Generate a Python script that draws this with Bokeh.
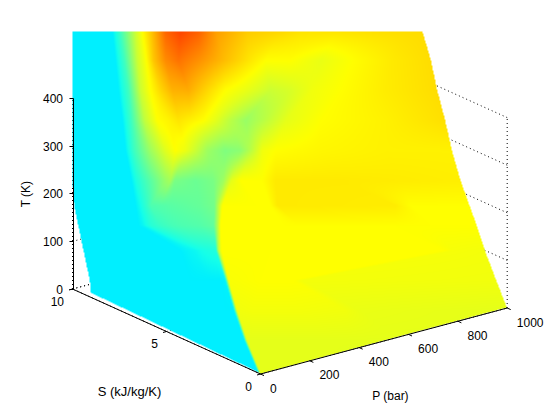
import numpy as np
from bokeh.embed import file_html
from bokeh.resources import INLINE
from bokeh.plotting import figure
from bokeh.models import Range1d, LinearAxis, FixedTicker, Label

# ---- tick labels / axis values
P_ticks = [0, 200, 400, 600, 800, 1000]
S_ticks = [0, 5, 10]
T_ticks = [0, 100, 200, 300, 400]
P_title = "P (bar)"
S_title = "S (kJ/kg/K)"
T_title = "T (K)"

# ---- surface samples: along each scan row of the view,
# where the shading stops sit and the colour value there (0 cyan, 1 yellow, 2 red)
scan_rows = [31, 60, 90, 120, 150, 180, 205, 225, 250, 280, 310, 340, 374]
stop_x = [
    [72,112,120,135,142,152,165,180,198,215,247,280,303,337,380,410,422],
    [72,115,124,137,146,153,165,178,200,225,248,265,290,320,352,392,430.5],
    [72,118,128,140,150,160,172,188,207,225,245,270,290,312,340,385,436.8],
    [72,122,131,144,157,168,178,190,203,215,228,245,262,285,320,385,444.7],
    [72,125,134,150,165,175,185,195,207,225,240,250,262,275,320,385,451.5],
    [72,131,136,150,165,170,174,195,213,223,231,240,262,275,340,400,460],
    [73.7,135,140,146,150,160,170,200,214,218,222,255,270,277,395,410,469],
    [77.8,138,142,150,160,170,180,200,213,217,220,270,285,300,395,430,476.3],
    [83,180,188,195,200,205,208,212,215.5,218,221,270,340,430,445,452,484.4],
    [89.3,190,198,205,210,214,218,221,225,226.5,228,260,275,285,293,301,495.8],
    [92,190,198,205,210,215,220,225,233.5,235,236.5,250,270,300,345,360,507.5],
    [92,190,200,210,220,228,234,238,244,245.2,246.5,260,290,320,350,400,507.5],
    [92,190,200,210,220,230,240,248,258.5,259.5,260.5,275,300,340,380,430,507.5],
]
stop_v = [
    [0,0,.25,.8,1,1.25,1.6,1.73,1.62,1.38,1.2,1.15,1.1,1.1,1.12,1.13,1.13],
    [0,0,.25,.8,1,1.22,1.45,1.55,1.42,1.25,1.1,1,1,.92,1,1.08,1.13],
    [0,0,.25,.8,1,1.15,1.3,1.32,1.15,1,.92,.8,.85,.95,1,1.07,1.13],
    [0,0,.25,.75,1,1.04,1.1,1.05,1,.9,.75,.6,.72,.9,1,1.05,1.12],
    [0,0,.25,.62,.88,1,.93,.8,.62,.5,.55,.72,.95,1,1.03,1.05,1.05],
    [0,0,.12,.35,.6,.65,.48,.42,.48,.62,.9,1,1,1.08,1.08,1.07,1.06],
    [0,0,.08,.2,.3,.33,.35,.4,.46,.75,1,1,1,1.08,1.07,1,1],
    [0,0,.03,.15,.22,.27,.3,.33,.38,.7,1,1,1,1,1,1,1],
    [0,0,.03,.05,.08,.1,.11,.12,.13,.75,1,1,1,1,1,.97,.96],
    [0,0,0,0,0,0,0,0,.02,.5,.98,1,1,1,1,.96,.95],
    [0,0,0,0,0,0,0,0,0,.45,.95,.96,.96,.96,.95,.92,.9],
    [0,0,0,0,0,0,0,0,0,.45,.9,.9,.9,.9,.9,.9,.9],
    [0,0,0,0,0,0,0,0,0,.45,.9,.9,.9,.9,.88,.88,.88],
]

# ---- view of the 3-D box (orthographic), in page units with y upward
def project(P, S, T):
    P, S, T = np.asarray(P, float), np.asarray(S, float), np.asarray(T, float)
    return 260.0 + 0.2467 * P - 18.8 * S, 420.0 - (373.5 - 0.066 * P - 8.5 * S - 0.476 * T)

def jet(v):
    r = np.clip(v, 0, 1)
    g = np.where(v <= 1, 0.94 + 0.06 * np.clip(v / 0.08, 0, 1), np.clip(2 - v, 0, 1))
    b = np.clip(1 - v, 0, 1)
    return r, g, b

# interpolated shading of the surface between samples
X0, X1, Y0, Y1 = 72, 507, 31, 374
W, H = X1 - X0, Y1 - Y0
rgba = np.zeros((H, W, 4), dtype=np.uint8)
sx = np.array(stop_x, float)
sv = np.array(stop_v, float)
px = X0 + 0.5 + np.arange(W)
for iy in range(H):
    yy = Y0 + 0.5 + iy
    xs = np.array([np.interp(yy, scan_rows, sx[:, c]) for c in range(sx.shape[1])])
    vs = np.array([np.interp(yy, scan_rows, sv[:, c]) for c in range(sx.shape[1])])
    v = np.interp(px, xs, vs)
    r, g, b = jet(v)
    edge_bottom = np.where(px < 259.5, 293 + (px - 92) * (372.5 - 293) / 167.5,
                           373.5 - (px - 259.5) * 66.5 / 247)
    inside = (px >= xs[0]) & (px <= xs[-1]) & (yy <= edge_bottom)
    rgba[iy, :, 0] = (r * 255).astype(np.uint8)
    rgba[iy, :, 1] = (g * 255).astype(np.uint8)
    rgba[iy, :, 2] = (b * 255).astype(np.uint8)
    rgba[iy, :, 3] = np.where(inside, 255, 0)

font = "Liberation Sans"
p = figure(width=544, height=404, output_backend="svg", toolbar_location=None,
           x_range=Range1d(0, 544), y_range=Range1d(16, 420),
           min_border=0, outline_line_color=None, x_axis_location=None, y_axis_location=None)
p.grid.visible = False
p.background_fill_color = None

# dotted grid on the back walls and the floor
def dotted(P0, S0, T0, P1, S1, T1):
    x0, y0 = project(P0, S0, T0)
    x1, y1 = project(P1, S1, T1)
    p.line([float(x0), float(x1)], [float(y0), float(y1)], line_color="black",
           line_width=1, line_dash="1 3")

for t in T_ticks:
    dotted(1000, 0, t, 1000, 10, t)
    dotted(0, 10, t, 1000, 10, t)
for s in S_ticks:
    dotted(1000, s, 0, 1000, s, 400)
    dotted(0, s, 0, 1000, s, 0)
for q in P_ticks:
    dotted(q, 10, 0, q, 10, 400)
    dotted(q, 0, 0, q, 10, 0)

image_u32 = rgba[::-1].copy().view(np.uint32).reshape(H, W)
p.image_rgba(image=[image_u32], x=X0, y=420 - Y1, dw=W, dh=H)

# box axes along the floor
for a, b_ in [((0, 0, 0), (1000, 0, 0)), ((0, 0, 0), (0, 10, 0))]:
    xa, ya = project(*a)
    xb, yb = project(*b_)
    p.line([float(xa), float(xb)], [float(ya), float(yb)], line_color="black", line_width=1)

# tick marks and labels of the P and S floor axes
for q in P_ticks:
    x, y = project(q, 0, 0)
    x, y = float(x), float(y)
    p.segment([x], [y], [x + 3.5], [y - 1.6], line_color="black", line_width=1)
    p.add_layout(Label(x=x + 9.6, y=y - 14, text=str(q), text_font=font, text_font_size="12px",
                       text_align="left", text_baseline="middle", text_color="black"))
for s in S_ticks:
    x, y = project(0, s, 0)
    x, y = float(x), float(y)
    p.segment([x], [y], [x - 3.5], [y - 1.0], line_color="black", line_width=1)
    p.add_layout(Label(x=x - 8.5, y=y - 12, text=str(s), text_font=font, text_font_size="12px",
                       text_align="right", text_baseline="middle", text_color="black"))

p.add_layout(Label(x=129, y=420 - 391, text=S_title, text_font=font, text_font_size="13px",
                   text_align="center", text_baseline="middle", text_color="black"))
p.add_layout(Label(x=390, y=420 - 395, text=P_title, text_font=font, text_font_size="12px",
                   text_align="center", text_baseline="middle", text_color="black"))

# the T axis is a real axis, fixed at the left of the view
y_low = float(project(0, 10, 0)[1])
p.extra_y_ranges["T"] = Range1d((16 - y_low) / 0.476, (420 - y_low) / 0.476)
axis = LinearAxis(y_range_name="T", ticker=FixedTicker(ticks=T_ticks), bounds=(0, 400),
                  fixed_location=72.5,
                  axis_label=T_title, axis_label_text_font=font, axis_label_text_font_size="12px",
                  axis_label_text_font_style="normal", axis_label_standoff=7,
                  axis_label_text_color="black", major_label_text_color="black",
                  major_label_text_font=font, major_label_text_font_size="12px",
                  major_tick_in=0, major_tick_out=4, minor_tick_line_color=None,
                  major_label_standoff=6, axis_line_color="black", major_tick_line_color="black")
p.add_layout(axis, "left")

open("out.html", "w").write(file_html(p, INLINE))
